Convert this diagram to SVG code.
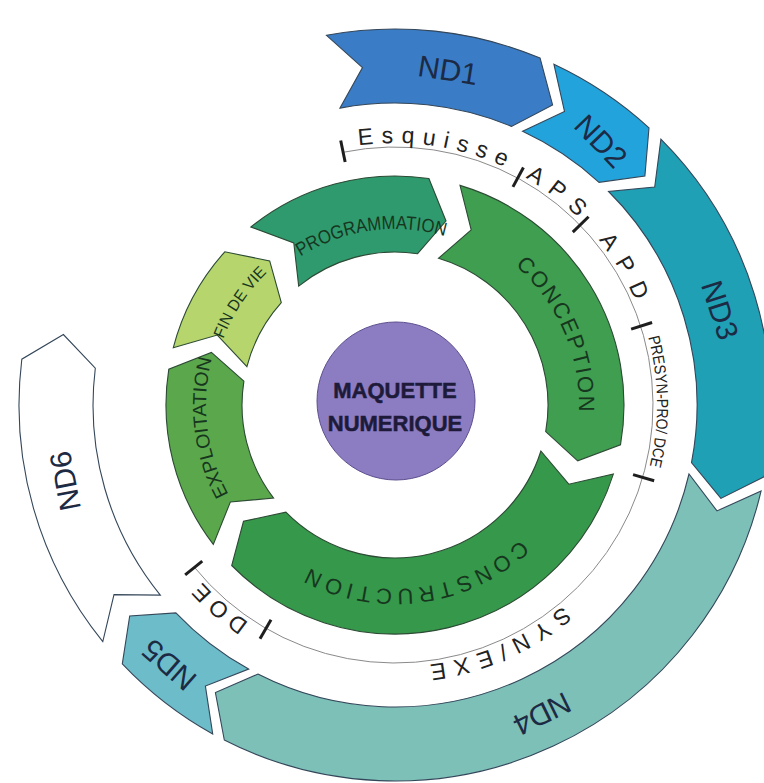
<svg xmlns="http://www.w3.org/2000/svg" xmlns:xlink="http://www.w3.org/1999/xlink" width="764" height="783" viewBox="0 0 764 783">
<style>
.outer{stroke:#34475a;stroke-width:1.1;stroke-linejoin:miter}
.green{stroke:#2c4a34;stroke-width:1.1}
.nd{font-family:"Liberation Sans",Arial,sans-serif;font-size:30px;fill:#1c2a44;text-anchor:middle;dominant-baseline:central}
.ph{font-family:"Liberation Sans",Arial,sans-serif;font-size:23px;fill:#222;text-anchor:middle}
.gl{font-family:"Liberation Sans",Arial,sans-serif;fill:#17361e;text-anchor:middle}
.tick{stroke:#1e1e1e;stroke-width:3;stroke-linecap:butt}
.track{fill:none;stroke:#8a8a8a;stroke-width:1}
.mq{font-family:"Liberation Sans",Arial,sans-serif;font-size:22px;font-weight:bold;fill:#1e1b3a;text-anchor:middle;stroke:#1e1b3a;stroke-width:0.5}
</style>
<defs>
<path id="tp-esq" d="M342.32,148.35 A262,262 0 0 1 519.61,174.53"/>
<path id="tp-aps" d="M519.61,174.53 A262,262 0 0 1 582.83,222.34"/>
<path id="tp-apd" d="M582.83,222.34 A262,262 0 0 1 644.46,324.91"/>
<path id="tp-pre" d="M644.46,324.91 A262,262 0 0 1 646.47,478.54"/>
<path id="tp-syn" d="M646.47,478.54 A262,262 0 0 1 264,631.90"/>
<path id="tp-doe" d="M264,631.90 A262,262 0 0 1 191.39,569.88"/>
<path id="tp-prog" d="M281.87,270.18 A176,176 0 0 1 466.59,244.22"/>
<path id="tp-conc" d="M487,245.65 A184,184 0 0 1 574.98,443.26"/>
<path id="tp-cons" d="M554.35,497 A184,184 0 0 1 267.18,537.36"/>
<path id="tp-expl" d="M240.18,513.41 A189,189 0 0 1 218.55,337.27"/>
<path id="tp-fin" d="M218.13,354.28 A184,184 0 0 1 279.21,262.0"/>
</defs>

<g id="nd1">
<path class="outer" fill="#3a7cc6" d="M326.5,35.3 A376,376 0 0 1 540.1,58.1 L552.6,104.9 L511.5,126.4 A302,302 0 0 0 340.0,108.1 L362.5,67.6 Z"/>
<text class="nd" transform="translate(448,70) rotate(9)">ND1</text>
</g>
<g id="nd2">
<path class="outer" fill="#23a3dc" d="M553.9,64.2 A376,376 0 0 1 649.0,127.8 L644.9,176.0 L599.0,182.3 A302,302 0 0 0 522.6,131.3 L564.5,111.4 Z"/>
<text class="nd" transform="translate(601,141) rotate(46)">ND2</text>
</g>
<g id="nd3">
<path class="outer" fill="#1fa0b4" d="M660.9,139.1 A376,376 0 0 1 764.1,476.8 L720.9,498.4 L691.5,462.6 A302,302 0 0 0 608.6,191.5 L654.7,187.1 Z"/>
<text class="nd" transform="translate(720,310) rotate(72)">ND3</text>
</g>
<g id="nd4">
<path class="outer" fill="#7dc0b8" d="M761.1,490.9 A376,376 0 0 1 224.3,740.0 L215.4,692.5 L257.9,674.1 A302,302 0 0 0 689.0,474.0 L717.0,510.9 Z"/>
<text class="nd" transform="translate(542,714) rotate(154)">ND4</text>
</g>
<g id="nd5">
<path class="outer" fill="#6cbcc9" d="M212.7,733.9 A376,376 0 0 1 122.3,663.8 L129.7,616.0 L175.9,612.9 A302,302 0 0 0 248.6,669.1 L205.4,686.0 Z"/>
<text class="nd" transform="translate(169,665) rotate(221)">ND5</text>
</g>
<g id="nd6">
<path class="outer" fill="#ffffff" d="M102.8,641.6 A376,376 0 0 1 21.8,359.2 L63.4,334.5 L95.3,368.2 A302,302 0 0 0 160.3,595.1 L114.0,594.6 Z"/>
<text class="nd" transform="translate(65,481) rotate(259)">ND6</text>
</g>

<g id="connectors">
<path class="track" d="M343.12,152.27 A258,258 0 1 1 194.50,567.36"/>
<line class="tick" x1="345.13" y1="162.06" x2="340.71" y2="140.51"/>
<line class="tick" x1="512.95" y1="186.85" x2="523.42" y2="167.49"/>
<line class="tick" x1="572.79" y1="232.10" x2="588.57" y2="216.76"/>
<line class="tick" x1="631.13" y1="329.19" x2="652.08" y2="322.46"/>
<line class="tick" x1="633.03" y1="474.61" x2="654.15" y2="480.78"/>
<line class="tick" x1="271" y1="619.78" x2="260" y2="638.83"/>
<line class="tick" x1="202.27" y1="561.07" x2="185.17" y2="574.92"/>
</g>

<g id="esquisse"><text class="ph" letter-spacing="8"><textPath href="#tp-esq" xlink:href="#tp-esq" startOffset="52%">Esquisse</textPath></text></g>
<g id="aps"><text class="ph" letter-spacing="10"><textPath href="#tp-aps" xlink:href="#tp-aps" startOffset="56%">APS</textPath></text></g>
<g id="apd"><text class="ph" letter-spacing="12"><textPath href="#tp-apd" xlink:href="#tp-apd" startOffset="54%">APD</textPath></text></g>
<g id="presyn"><text class="ph" style="font-size:16px"><textPath href="#tp-pre" xlink:href="#tp-pre" startOffset="50%" textLength="130" lengthAdjust="spacingAndGlyphs">PRESYN-PRO/ DCE</textPath></text></g>
<g id="synexe"><text class="ph" letter-spacing="8"><textPath href="#tp-syn" xlink:href="#tp-syn" startOffset="49%">SYN/EXE</textPath></text></g>
<g id="doe"><text class="ph" letter-spacing="6"><textPath href="#tp-doe" xlink:href="#tp-doe" startOffset="54%">DOE</textPath></text></g>

<g id="programmation">
<path class="green" fill="#2f9a6e" d="M250.9,227.0 A229,229 0 0 1 428.9,178.5 L446.0,221.0 L417.6,253.7 A153,153 0 0 0 298.7,286.1 L293.8,243.0 Z"/>
<text class="gl" style="font-size:19px"><textPath href="#tp-prog" xlink:href="#tp-prog" startOffset="50%" textLength="150" lengthAdjust="spacingAndGlyphs">PROGRAMMATION</textPath></text>
</g>
<g id="conception">
<path class="green" fill="#3f9e4f" d="M460.0,185.4 A229,229 0 0 1 620.5,444.8 L577.7,460.8 L545.7,431.6 A153,153 0 0 0 438.5,258.3 L471.2,229.8 Z"/>
<text class="gl" style="font-size:22px" letter-spacing="2"><textPath href="#tp-conc" xlink:href="#tp-conc" startOffset="51%">CONCEPTION</textPath></text>
</g>
<g id="construction">
<path class="green" fill="#35984a" d="M613.4,473.9 A229,229 0 0 1 231.7,565.5 L243.5,521.3 L285.9,512.2 A153,153 0 0 0 540.9,451.0 L568.8,484.2 Z"/>
<text class="gl" style="font-size:22px" letter-spacing="4.5"><textPath href="#tp-cons" xlink:href="#tp-cons" startOffset="51%">CONSTRUCTION</textPath></text>
</g>
<g id="exploitation">
<path class="green" fill="#5ba84c" d="M213.3,544.4 A229,229 0 0 1 168.8,369.2 L211.4,352.4 L243.9,381.1 A153,153 0 0 0 273.6,498.1 L230.4,501.9 Z"/>
<text class="gl" style="font-size:19px"><textPath href="#tp-expl" xlink:href="#tp-expl" startOffset="50%" textLength="140" lengthAdjust="spacingAndGlyphs">EXPLOITATION</textPath></text>
</g>
<g id="fin-de-vie">
<path class="green" fill="#b6d56c" d="M173.3,347.7 A229,229 0 0 1 224.8,251.8 L269.7,260.9 L281.3,302.6 A153,153 0 0 0 246.9,366.7 L217.3,335.0 Z"/>
<text class="gl" style="font-size:16px"><textPath href="#tp-fin" xlink:href="#tp-fin" startOffset="50%" textLength="80" lengthAdjust="spacingAndGlyphs">FIN DE VIE</textPath></text>
</g>

<g id="maquette">
<circle cx="396" cy="401" r="79" fill="#8c7cc2" stroke="#5e4f8e" stroke-width="1"/>
<text class="mq" x="395" y="398">MAQUETTE</text>
<text class="mq" x="395" y="431">NUMERIQUE</text>
</g>
</svg>
